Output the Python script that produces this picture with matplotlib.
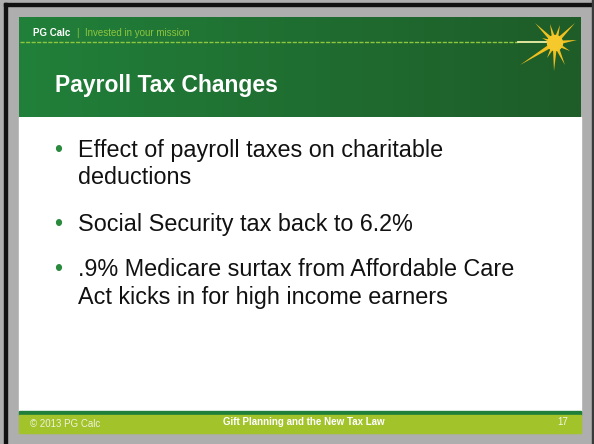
import numpy as np
import matplotlib.pyplot as plt
from matplotlib.patches import Rectangle, Polygon, Circle

# Contenido de la diapositiva
marca = 'PG Calc'
lema = 'Invested in your mission'
titulo = 'Payroll Tax Changes'
vinetas = [
    ['Effect of payroll taxes on charitable', 'deductions'],
    ['Social Security tax back to 6.2%'],
    ['.9% Medicare surtax from Affordable Care', 'Act kicks in for high income earners'],
]
pie_izq = '\u00a9 2013 PG Calc'
pie_centro = 'Gift Planning and the New Tax Law'
pie_num = '17'

# Rayos del sol del logo (dx, dy en píxeles desde el centro)
rayos = [(-20, -20), (-5, -19), (5, -18), (20, -20), (22, -3), (15, 8),
         (10, 22), (-1, 28), (-8, 15), (-35, 22), (-13, -5)]

W, H = 594, 444
fig = plt.figure(figsize=(W / 100, H / 100), dpi=100)
ax = fig.add_axes([0, 0, 1, 1])
ax.set_xlim(0, W)
ax.set_ylim(H, 0)
ax.axis('off')
plt.rcParams['font.family'] = ['Liberation Sans', 'DejaVu Sans']

# Fondo gris y bordes
ax.add_patch(Rectangle((0, 0), W, H, color='#aeaeae', zorder=0))
ax.add_patch(Rectangle((4, 3), W, 3, color='#111111', zorder=1))
ax.add_patch(Rectangle((4, 3), 3, H, color='#111111', zorder=1))
ax.add_patch(Rectangle((592, 0), 2, H, color='#3a3a3a', zorder=1))

x0, x1 = 19, 581
# Cuerpo blanco
ax.add_patch(Rectangle((x0, 117), x1 - x0, 294, color='white', zorder=1))

# Cabecera con degradado verde
grad = np.linspace(0, 1, 256)
c_izq = np.array([33, 128, 58]) / 255
c_der = np.array([30, 92, 40]) / 255
img = (c_izq[None, :] * (1 - grad[:, None]) + c_der[None, :] * grad[:, None])[None, :, :]
ax.imshow(img, extent=[x0, x1, 117.5, 18], aspect='auto', zorder=2, interpolation='bilinear')

# Línea discontinua de la cabecera
ax.plot([20, 518], [42.5, 42.5], color='#8dc63f', lw=1, ls=(0, (3, 1)), zorder=3)
ax.plot([518, 550], [42.5, 42.5], color='#eef2a8', lw=1.3, zorder=3)

# Sol
cx, cy = 555, 43
for dx, dy in rayos:
    ang = np.arctan2(dy, dx)
    px, py = -np.sin(ang) * 2.3, np.cos(ang) * 2.3
    ax.add_patch(Polygon([(cx + px, cy + py), (cx - px, cy - py), (cx + dx, cy + dy)],
                         closed=True, color='#f0c020', lw=0, zorder=4))
ax.add_patch(Circle((cx, cy), 7.5, color='#f5c92c', zorder=5))

# Texto de la cabecera
ax.text(33, 35.5, marca, color='white', fontsize=7, fontweight='bold', va='baseline', zorder=6)
ax.text(76, 35.5, '|', color='#8dc63f', fontsize=7, va='baseline', zorder=6)
ax.text(85, 35.5, lema, color='#8dc63f', fontsize=7, va='baseline', zorder=6)
ax.text(55, 92, titulo, color='white', fontsize=16.5, fontweight='bold', va='baseline', zorder=6)

# Viñetas
bases = [[157, 184], [231], [276, 304]]
for lineas, ys in zip(vinetas, bases):
    ax.text(54, ys[0], '\u2022', color='#2a8a3e', fontsize=16.5, va='baseline', zorder=6)
    for linea, y in zip(lineas, ys):
        ax.text(78, y, linea, color='#111111', fontsize=16.8, va='baseline', zorder=6)

# Pie
ax.add_patch(Rectangle((x0, 411), x1 - x0, 3.7, color='#1e7e3a', zorder=2))
ax.add_patch(Rectangle((x0, 414.7), x1 - x0, 18, color='#a2c32a', zorder=2))
ax.text(30, 427, pie_izq, color='#eef2dc', fontsize=7, va='baseline', zorder=6)
ax.text(304, 424.5, pie_centro, color='white', fontsize=7, fontweight='bold',
        ha='center', va='baseline', zorder=6)
ax.text(568, 425, pie_num, color='#f4f7e6', fontsize=7, ha='right', va='baseline', zorder=6)

fig.savefig('out.png', dpi=100)
